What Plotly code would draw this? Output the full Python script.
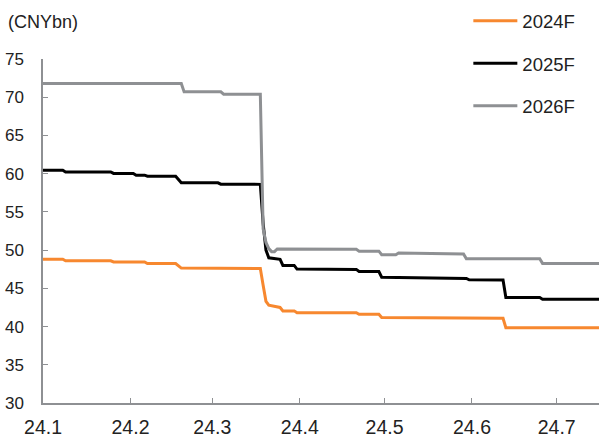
import plotly.graph_objects as go

# 2024F consensus (CNYbn)
d24 = ["2024-01-01","2024-01-08","2024-01-09","2024-01-25","2024-01-26","2024-02-06","2024-02-07",
       "2024-02-17","2024-02-19","2024-03-18","2024-03-19","2024-03-20","2024-03-21","2024-03-23",
       "2024-03-24","2024-03-25","2024-03-26","2024-03-30","2024-03-31","2024-04-21","2024-04-22",
       "2024-04-29","2024-04-30","2024-05-30","2024-05-31","2024-06-12","2024-06-13","2024-07-16"]
v24 = [48.8, 48.8, 48.6, 48.6, 48.45, 48.45, 48.25,
       48.25, 47.65, 47.6, 45.4, 43.3, 42.8, 42.65,
       42.5, 42.5, 42.05, 42.05, 41.8, 41.8, 41.6,
       41.6, 41.18, 41.15, 41.08, 41.08, 39.85, 39.85]

# 2025F
d25 = ["2024-01-01","2024-01-08","2024-01-09","2024-01-25","2024-01-26","2024-02-02","2024-02-03",
       "2024-02-06","2024-02-07","2024-02-17","2024-02-19","2024-03-03","2024-03-04","2024-03-18",
       "2024-03-19","2024-03-20","2024-03-21","2024-03-25","2024-03-26","2024-03-30","2024-03-31",
       "2024-04-21","2024-04-22","2024-04-29","2024-04-30","2024-05-30","2024-05-31","2024-06-12",
       "2024-06-13","2024-06-25","2024-06-26","2024-07-16"]
v25 = [60.45, 60.45, 60.22, 60.22, 60.03, 60.03, 59.8,
       59.8, 59.67, 59.67, 58.8, 58.8, 58.62, 58.6,
       53.5, 50.0, 49.0, 48.8, 48.0, 48.0, 47.52,
       47.48, 47.2, 47.2, 46.45, 46.3, 46.12, 46.1,
       43.8, 43.8, 43.58, 43.58]

# 2026F
d26 = ["2024-01-01","2024-02-19","2024-02-20","2024-03-04","2024-03-05","2024-03-18","2024-03-19",
       "2024-03-20","2024-03-21","2024-03-22","2024-03-23","2024-03-24","2024-04-21","2024-04-22",
       "2024-04-29","2024-04-30","2024-05-05","2024-05-06","2024-05-29","2024-05-30","2024-06-25",
       "2024-06-26","2024-07-16"]
v26 = [71.8, 71.8, 70.7, 70.7, 70.4, 70.4, 52.8,
       51.0, 50.2, 49.8, 49.8, 50.15, 50.1, 49.86,
       49.86, 49.4, 49.4, 49.62, 49.5, 48.86, 48.86,
       48.26, 48.26]

names = ["2024F", "2025F", "2026F"]
colors = ["#F7882F", "#000000", "#8E9093"]

fig = go.Figure()
for i, (d, v) in enumerate([(d24, v24), (d25, v25), (d26, v26)]):
    fig.add_trace(go.Scatter(x=d, y=v, mode="lines", name=names[i],
                             legendgroup=names[i],
                             line=dict(color=colors[i], width=3)))

axcol = "#8E9093"
fig.update_layout(
    width=599, height=439,
    margin=dict(l=43, r=0, t=59, b=36, autoexpand=False),
    paper_bgcolor="white", plot_bgcolor="white",
    font=dict(family="Liberation Sans, Arial, sans-serif", color="#222222"),
    showlegend=True,
    legend=dict(x=0.765, y=1.165, xanchor="left", yanchor="top",
                font=dict(size=18.5, color="#222222"),
                traceorder="grouped", tracegroupgap=15.5,
                itemwidth=44, bgcolor="rgba(0,0,0,0)"),
    xaxis=dict(type="date", range=["2024-01-01", "2024-07-16"],
               tick0="2024-01-01", dtick="M1", tickformat="%y.%-m",
               ticks="inside", ticklen=5, tickcolor=axcol, tickwidth=1,
               showline=True, linecolor=axcol, linewidth=1.5,
               showgrid=False, zeroline=False,
               tickfont=dict(size=19.5), ticklabelstandoff=6),
    yaxis=dict(range=[30, 75], dtick=5, tick0=30,
               ticks="inside", ticklen=5, tickcolor=axcol, tickwidth=1,
               showline=True, linecolor=axcol, linewidth=1.5,
               showgrid=False, zeroline=False,
               tickfont=dict(size=17), ticklabelstandoff=14),
    annotations=[dict(text="(CNYbn)", xref="paper", yref="paper",
                      x=-0.066, y=1.107, xanchor="left", yanchor="middle",
                      showarrow=False, font=dict(size=18, color="#222222"))],
)

fig.write_html("out.html", config={"displayModeBar": False},
               post_script="document.body.style.margin='0';document.body.style.overflow='hidden';")
